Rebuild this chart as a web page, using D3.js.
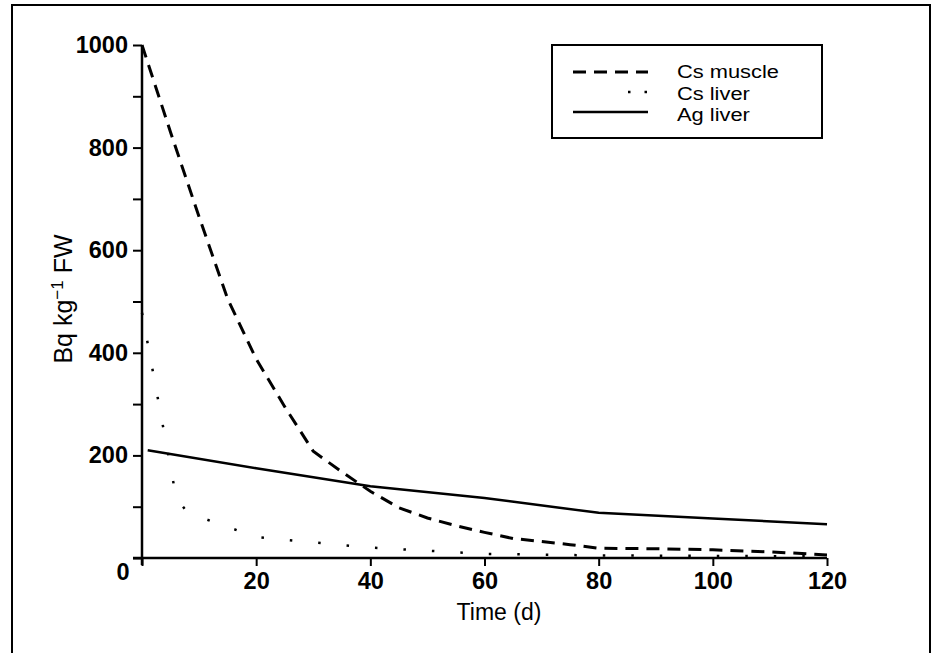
<!DOCTYPE html>
<html>
<head>
<meta charset="utf-8">
<script src="https://cdn.jsdelivr.net/npm/d3@7"></script>
<style>
  html, body { margin: 0; padding: 0; background: #fff; }
  svg { display: block; font-family: "Liberation Sans", Arial, Helvetica, sans-serif; }
</style>
</head>
<body>
<svg id="chart" width="935" height="653"></svg>
<script>
// ---- data ----
const csMuscleT = [0, 5, 10, 15, 20, 25, 30, 35, 40, 45, 50, 55, 60, 65, 70, 75, 80, 90, 100, 110, 120];
const csMuscleV = [1000, 830, 665, 505, 388, 295, 208, 168, 130, 98, 78, 63, 50, 38, 32, 26, 19, 18, 16, 12, 6];

const csLiverT = [0, 6, 8, 20, 39, 60, 80, 100, 120];
const csLiverV = [478, 117, 88, 41, 21, 8, 5, 4, 3];

const agLiverT = [1, 20, 40, 60, 80, 100, 120];
const agLiverV = [210, 175, 140, 117, 88, 77, 66];

const seriesNames = ["Cs muscle", "Cs liver", "Ag liver"];
const xTicks = [0, 20, 40, 60, 80, 100, 120];
const yTicks = [0, 100, 200, 300, 400, 500, 600, 700, 800, 900, 1000];
const yLabelTicks = [200, 400, 600, 800, 1000];

// ---- drawing ----
const svg = d3.select("#chart");
const x = d3.scaleLinear().domain([0, 120]).range([142, 827]);
const y = d3.scaleLinear().domain([0, 1000]).range([558, 45]);

// outer frame
svg.append("rect").attr("x", 12).attr("y", 5).attr("width", 918).attr("height", 700)
  .attr("fill", "none").attr("stroke", "#000").attr("stroke-width", 2);

// axes
const xAxis = d3.axisBottom(x).tickValues(xTicks).tickSize(8).tickPadding(6)
  .tickFormat(d => d === 0 ? "" : d);
const yAxis = d3.axisLeft(y).tickValues(yTicks).tickSize(9).tickPadding(5)
  .tickFormat(d => yLabelTicks.includes(d) ? d : "");

const gx = svg.append("g").attr("transform", `translate(0,${y(0)})`).call(xAxis);
const gy = svg.append("g").attr("transform", `translate(${x(0)},0)`).call(yAxis);
[gx, gy].forEach(g => {
  g.select(".domain").attr("stroke", "#000").attr("stroke-width", 2.5);
  g.selectAll(".tick line").attr("stroke", "#000").attr("stroke-width", 2);
  g.selectAll(".tick text").attr("fill", "#000").attr("font-size", 23.5).attr("font-weight", "bold")
    .attr("font-family", "Liberation Sans, Arial, sans-serif");
});
gy.select(".domain").attr("d", `M0,${y(0) + 7}V${y(1000)}`);
gx.select(".domain").attr("d", `M${-9},0H${x(120) - x(0)}`).attr("transform", `translate(${x(0)},0)`);

// shared corner "0"
svg.append("text").attr("x", x(0) - 19).attr("y", y(0) + 22)
  .attr("text-anchor", "middle").attr("font-size", 23.5).attr("font-weight", "bold").text(0);

// axis titles
svg.append("text").attr("x", 499).attr("y", 620).attr("text-anchor", "middle")
  .attr("font-size", 23).text("Time (d)");
const yl = svg.append("text").attr("transform", "translate(72,299) rotate(-90)")
  .attr("text-anchor", "middle").attr("font-size", 25);
yl.append("tspan").text("Bq kg");
yl.append("tspan").attr("dy", -9).attr("font-size", 17).text("−1");
yl.append("tspan").attr("dy", 9).text(" FW");

// lines
const line = d3.line().x(d => x(d[0])).y(d => y(d[1])).curve(d3.curveLinear);
const styles = {
  "Cs muscle": { w: 3, dash: "13,8" },
  "Cs liver": { w: 2.5, dash: "2.5,26" },
  "Ag liver": { w: 2.5, dash: null }
};
const seriesData = [
  d3.zip(csMuscleT, csMuscleV),
  d3.zip(csLiverT, csLiverV),
  d3.zip(agLiverT, agLiverV)
];
seriesNames.forEach((name, i) => {
  svg.append("path").datum(seriesData[i]).attr("d", line)
    .attr("fill", "none").attr("stroke", "#000")
    .attr("stroke-width", styles[name].w)
    .attr("stroke-dasharray", styles[name].dash);
});

// legend
const lg = svg.append("g");
lg.append("rect").attr("x", 552).attr("y", 45).attr("width", 270).attr("height", 93)
  .attr("fill", "#fff").attr("stroke", "#000").attr("stroke-width", 2);
seriesNames.forEach((name, i) => {
  const yy = 72 + i * 20;
  lg.append("line").attr("x1", 573).attr("x2", 648).attr("y1", yy).attr("y2", yy)
    .attr("stroke", "#000").attr("stroke-width", styles[name].w)
    .attr("stroke-dasharray", i === 1 ? "0,55,2.5,14,2.5,20" : styles[name].dash);
  lg.append("text").attr("transform", `translate(677,${78 + i * 21.5}) scale(1.15,1)`)
    .attr("font-size", 19).text(name);
});
</script>
</body>
</html>
